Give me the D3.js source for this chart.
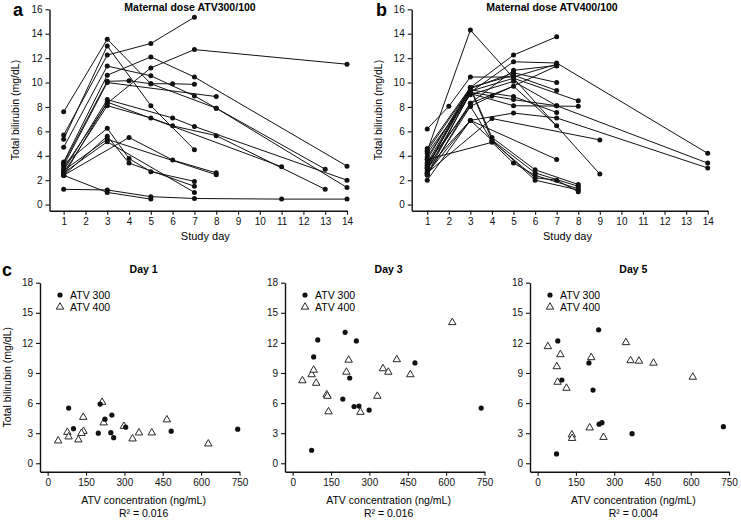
<!DOCTYPE html>
<html><head><meta charset="utf-8">
<script src="https://cdn.jsdelivr.net/npm/d3@7"></script>
<style>
body{margin:0;background:#fff;}
svg{display:block;font-family:"Liberation Sans",Arial,Helvetica,sans-serif;}
.axis path,.axis line{stroke:#111;}
.axis text{fill:#111;font-size:10px;}
</style></head>
<body>
<div id="chart"></div>
<script>
// ---------- Panel a: maternal dose ATV300/100 (study day, total bilirubin mg/dL) ----------
const subjectsA = [
  [[1,7.6],[3,13.55],[5,9.9],[6,9.9],[7,9.85]],
  [[1,5.7],[3,12.25],[5,13.2],[7,15.35]],
  [[1,5.35],[3,13.0],[5,8.1],[7,4.5]],
  [[1,4.7],[3,11.35],[5,10.55],[7,8.9],[8,7.9],[13,2.9]],
  [[1,3.5],[3,10.6],[5,12.1],[7,10.45],[14,3.15]],
  [[1,3.2],[3,10.0],[8,8.85]],
  [[1,3.0],[3,8.3],[5,11.2],[7,12.7],[14,11.5]],
  [[1,3.4],[3,10.1],[4,10.15],[5,9.9],[8,7.9],[14,1.4]],
  [[1,2.8],[3,8.6],[6,7.1],[7,6.4],[14,2.0]],
  [[1,2.4],[3,8.4],[11,3.1]],
  [[1,2.6],[3,8.1],[5,7.1],[6,6.45],[8,5.65],[13,1.25]],
  [[1,3.3],[3,6.25],[4,3.77],[5,2.7],[7,1.9]],
  [[1,2.4],[3,5.6],[4,3.4],[7,1.5]],
  [[1,2.6],[3,5.15],[7,1.0]],
  [[1,2.4],[4,5.5],[6,3.65],[8,2.6]],
  [[1,2.8],[3,5.35],[8,2.45]],
  [[1,1.25],[3,1.2],[5,0.65],[7,0.5],[11,0.45],[14,0.45]],
  [[1,2.4],[3,1.0],[5,0.45]]
];
// ---------- Panel b: maternal dose ATV400/100 ----------
const subjectsB = [
  [[1,4.4],[3,14.3],[9,2.5]],
  [[1,6.2],[2,8.05],[3,10.45],[5,10.45],[7,11.5]],
  [[1,3.0],[3,9.6],[5,12.25],[7,13.75]],
  [[1,3.2],[3,9.2],[5,11.7],[7,11.6],[14,4.2]],
  [[1,2.5],[3,8.05],[4,8.9],[7,11.35]],
  [[1,3.4],[3,9.5],[5,10.8],[7,10.0]],
  [[1,3.7],[3,9.6],[5,10.6],[7,9.35]],
  [[1,3.9],[3,9.3],[5,10.35],[8,8.5]],
  [[1,4.2],[3,9.0],[5,10.1],[7,8.1],[14,3.4]],
  [[1,2.4],[3,8.3],[5,9.7],[7,6.45]],
  [[1,3.2],[3,9.4],[5,8.85],[7,7.55]],
  [[1,2.6],[3,6.9],[5,7.5],[7,7.1],[14,3.0]],
  [[1,2.6],[4,7.05],[9,5.3]],
  [[1,3.0],[3,6.9],[7,3.7]],
  [[1,4.6],[3,9.6],[4,5.5],[6,2.85],[8,1.65]],
  [[1,4.4],[3,9.5],[4,5.3],[6,2.6],[8,1.5]],
  [[1,3.7],[4,5.1],[5,3.4],[6,2.4],[8,1.3]],
  [[1,3.4],[3,8.05],[4,5.2],[6,2.2],[7,2.0],[8,1.05]],
  [[1,2.0],[3,6.9],[6,2.0],[8,1.2]],
  [[1,2.8],[3,9.1],[5,8.1],[8,8.05]],
  [[1,3.0],[3,8.3],[5,11.0],[7,11.4]],
  [[1,2.5],[3,9.2],[5,8.6],[7,8.1]]
];
const dayTicks = [1,2,3,4,5,6,7,8,9,10,11,12,13,14];
const biliTicksAB = [0,2,4,6,8,10,12,14,16];
const titlesAB = ["Maternal dose ATV300/100","Maternal dose ATV400/100"];

// ---------- Panel c: ATV concentration (ng/mL) vs total bilirubin (mg/dL) ----------
const day1_atv300 = [[82,5.5],[101,3.45],[205,5.9],[224,4.4],[251,4.8],[198,3.0],[247,3.05],[258,2.55],[305,3.6],[483,3.2],[743,3.4]];
const day1_atv400 = [[41,2.3],[77,3.15],[82,2.7],[120,2.4],[139,4.65],[140,3.25],[132,3.05],[213,6.15],[219,4.1],[332,2.5],[357,3.1],[298,3.75],[407,3.1],[466,4.4],[628,2.0]];
const day3_atv300 = [[98,12.3],[82,10.6],[205,13.05],[249,12.2],[223,8.5],[196,6.4],[240,5.65],[259,5.7],[299,5.3],[478,10.0],[737,5.5],[74,1.3]];
const day3_atv400 = [[38,8.3],[74,8.9],[82,9.35],[92,8.05],[133,6.9],[136,6.75],[140,5.2],[210,9.15],[219,10.35],[265,5.15],[331,6.75],[353,9.5],[374,9.15],[407,10.4],[460,8.9],[624,14.1]];
const day5_atv300 = [[79,12.2],[239,13.3],[201,10.0],[95,8.3],[217,7.3],[241,3.9],[252,4.05],[370,2.95],[74,0.93],[728,3.65]];
const day5_atv400 = [[40,11.7],[89,10.9],[75,9.7],[78,8.15],[113,7.55],[210,10.6],[346,12.1],[364,10.3],[397,10.25],[454,10.05],[608,8.65],[204,3.6],[134,2.9],[135,2.55],[258,2.65]];
const dayTitles = ["Day 1","Day 3","Day 5"];
const r2Labels = ["R² = 0.016","R² = 0.016","R² = 0.004"];
const concTicks = [0,150,300,450,600,750];
const biliTicksC = [0,3,6,9,12,15,18];
const legendLabels = ["ATV 300","ATV 400"];

const W = 741, H = 521;
const svg = d3.select("#chart").append("svg").attr("width", W).attr("height", H);

function styleAxis(g){
  g.attr("class","axis");
  g.select(".domain").attr("stroke-width",1.4);
  g.selectAll(".tick line").attr("stroke-width",1.1);
}

// ---------- line panels ----------
const lineLayouts = [
  {x0:49.5, x1:347, dStart:0.35, yTop:9.3, yBot:210.7, label:"a", lx:13, titleX:190, ylabX:19, data:subjectsA},
  {x0:411.7, x1:707.7, dStart:0.28, yTop:9.3, yBot:210.7, label:"b", lx:376, titleX:552, ylabX:382, data:subjectsB}
];
lineLayouts.forEach((L,i)=>{
  const x = d3.scaleLinear().domain([L.dStart,14]).range([L.x0,L.x1]);
  const y = d3.scaleLinear().domain([-0.5,16]).range([L.yBot,L.yTop]);
  const gx = svg.append("g").attr("transform",`translate(0,${L.yBot})`)
    .call(d3.axisBottom(x).tickValues(dayTicks).tickSize(4).tickPadding(3).tickSizeOuter(0));
  styleAxis(gx);
  const gy = svg.append("g").attr("transform",`translate(${L.x0},0)`)
    .call(d3.axisLeft(y).tickValues(biliTicksAB).tickSize(4).tickPadding(3).tickSizeOuter(0));
  styleAxis(gy);
  const line = d3.line().x(d=>x(d[0])).y(d=>y(d[1]));
  const g = svg.append("g");
  L.data.forEach(s=>{
    g.append("path").attr("d",line(s)).attr("fill","none").attr("stroke","#111").attr("stroke-width",1);
  });
  L.data.forEach(s=>{
    g.selectAll(null).data(s).enter().append("circle")
      .attr("cx",d=>x(d[0])).attr("cy",d=>y(d[1])).attr("r",2.5).attr("fill","#111");
  });
  svg.append("text").attr("x",L.titleX).attr("y",11).attr("text-anchor","middle")
    .attr("font-size",10.5).attr("font-weight","bold").text(titlesAB[i]);
  svg.append("text").attr("x",L.lx).attr("y",16).attr("font-size",18).attr("font-weight","bold").text(L.label);
  svg.append("text").attr("transform",`translate(${L.ylabX},${(L.yTop+L.yBot)/2}) rotate(-90)`)
    .attr("text-anchor","middle").attr("font-size",10.5).text("Total bilirubin (mg/dL)");
  svg.append("text").attr("x",(x(1)+x(14))/2).attr("y",240).attr("text-anchor","middle")
    .attr("font-size",11).text("Study day");
});

// ---------- scatter panels ----------
const scatterData = [[day1_atv300,day1_atv400],[day3_atv300,day3_atv400],[day5_atv300,day5_atv400]];
const scLayouts = [{x0:40,x1:239.5},{x0:285,x1:484.5},{x0:530,x1:729}];
const cTop = 282.7, cBot = 471.7;
const tri = d3.symbol().type(d3.symbolTriangle).size(24);
scLayouts.forEach((L,i)=>{
  const x = d3.scaleLinear().domain([-30,750]).range([L.x0,L.x1]);
  const y = d3.scaleLinear().domain([-0.84,18]).range([cBot,cTop]);
  const gx = svg.append("g").attr("transform",`translate(0,${cBot})`)
    .call(d3.axisBottom(x).tickValues(concTicks).tickSize(4).tickPadding(3).tickSizeOuter(0));
  styleAxis(gx);
  const gy = svg.append("g").attr("transform",`translate(${L.x0},0)`)
    .call(d3.axisLeft(y).tickValues(biliTicksC).tickSize(4).tickPadding(3).tickSizeOuter(0));
  styleAxis(gy);
  const [d300,d400] = scatterData[i];
  svg.append("g").selectAll("path").data(d400).enter().append("path")
    .attr("d",tri).attr("transform",d=>`translate(${x(d[0])},${y(d[1])+0.6})`)
    .attr("fill","#fff").attr("stroke","#111").attr("stroke-width",0.9);
  svg.append("g").selectAll("circle").data(d300).enter().append("circle")
    .attr("cx",d=>x(d[0])).attr("cy",d=>y(d[1])).attr("r",2.6).attr("fill","#111");
  const cx = (x(0)+x(750))/2;
  svg.append("text").attr("x",cx).attr("y",273).attr("text-anchor","middle")
    .attr("font-size",10.5).attr("font-weight","bold").text(dayTitles[i]);
  svg.append("text").attr("x",cx).attr("y",504).attr("text-anchor","middle")
    .attr("font-size",10.5).text("ATV concentration (ng/mL)");
  svg.append("text").attr("x",cx).attr("y",517).attr("text-anchor","middle")
    .attr("font-size",10.5).text(r2Labels[i]);
  // legend
  const lg = svg.append("g").attr("transform",`translate(${L.x0+20},0)`);
  lg.append("circle").attr("cx",0).attr("cy",295).attr("r",2.6).attr("fill","#111");
  lg.append("path").attr("d",tri).attr("transform","translate(0,307)").attr("fill","#fff").attr("stroke","#111").attr("stroke-width",0.9);
  lg.append("text").attr("x",10).attr("y",298.5).attr("font-size",10.5).text(legendLabels[0]);
  lg.append("text").attr("x",10).attr("y",310.5).attr("font-size",10.5).text(legendLabels[1]);
});
svg.append("text").attr("transform",`translate(10.5,${(cTop+cBot)/2}) rotate(-90)`)
  .attr("text-anchor","middle").attr("font-size",10.5).text("Total bilirubin (mg/dL)");
svg.append("text").attr("x",2).attr("y",276).attr("font-size",18).attr("font-weight","bold").text("c");
</script>
</body></html>
